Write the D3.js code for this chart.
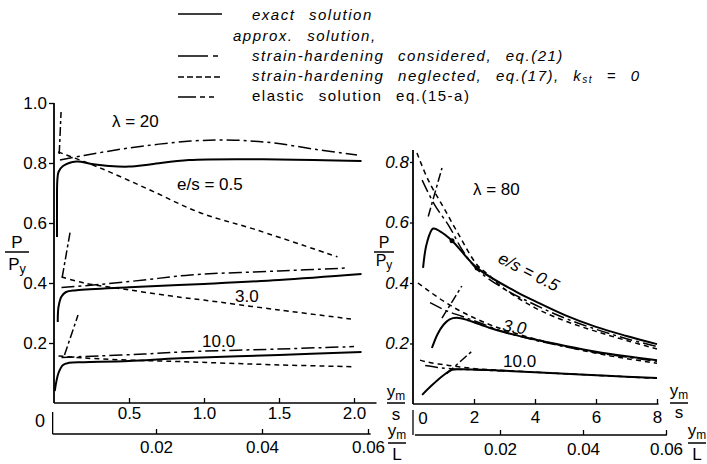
<!DOCTYPE html>
<html><head><meta charset="utf-8">
<script src="https://cdn.jsdelivr.net/npm/d3@7"></script>
<style>
body{margin:0;background:#fff;}
svg{display:block;font-family:"Liberation Sans",Arial,sans-serif;}
.tick text{font-size:17px;fill:#000;}
</style></head><body>
<script>
// ---------- data ----------
// Left panel, lambda = 20 : [y_m/s, P/Py]
const exact05L = [[0.02,0.553],[0.02,0.66],[0.022,0.74],[0.03,0.77],[0.06,0.79],[0.15,0.805],[0.25,0.797],[0.37,0.79],[0.5,0.788],[0.65,0.796],[0.9,0.81],[1.5,0.812],[2.05,0.807]];
const cons05L  = [[0.04,0.81],[0.2,0.825],[0.5,0.85],[0.91,0.873],[1.2,0.876],[1.46,0.867],[1.75,0.845],[2.02,0.827]];
const neg05L   = [[0.027,0.837],[0.31,0.783],[0.64,0.71],[0.97,0.635],[1.35,0.577],[1.89,0.487]];
const elas05L  = [[0.035,0.83],[0.047,0.97]];
const exact3L  = [[0.025,0.27],[0.03,0.32],[0.05,0.355],[0.08,0.37],[0.15,0.376],[0.5,0.386],[1.0,0.397],[1.5,0.41],[2.05,0.43]];
const cons3L   = [[0.05,0.385],[0.3,0.395],[0.6,0.41],[0.91,0.427],[1.5,0.44],[1.95,0.45]];
const neg3L    = [[0.05,0.42],[0.2,0.4],[0.5,0.377],[0.85,0.352],[1.0,0.343],[1.5,0.31],[1.98,0.28]];
const elas3L   = [[0.055,0.42],[0.11,0.577]];
const exact10L = [[0.005,0.04],[0.03,0.1],[0.06,0.127],[0.1,0.134],[0.2,0.136],[0.5,0.14],[0.84,0.149],[1.5,0.16],[2.05,0.17]];
const cons10L  = [[0.05,0.152],[0.3,0.157],[0.6,0.163],[0.84,0.17],[1.5,0.18],[2.0,0.188]];
const neg10L   = [[0.03,0.157],[0.2,0.15],[0.5,0.143],[0.84,0.138],[1.5,0.127],[2.0,0.121]];
const elas10L  = [[0.07,0.16],[0.16,0.293]];
// Right panel, lambda = 80
const exact05R = [[0.33,0.45],[0.45,0.53],[0.66,0.58],[0.9,0.57],[1.28,0.54],[2.1,0.45],[3.4,0.37],[4,0.34],[5,0.293],[6,0.255],[7,0.225],[8,0.198]];
const cons05R  = [[0.3,0.74],[0.7,0.66],[1.2,0.585],[1.6,0.512],[2.1,0.445],[3,0.38],[4,0.328],[5,0.283],[6,0.247],[7,0.216],[8,0.19]];
const neg05R   = [[0.13,0.83],[0.5,0.74],[1.0,0.65],[1.5,0.56],[2.1,0.46],[2.5,0.425],[3,0.38],[4,0.318],[5,0.274],[6,0.24],[7,0.21],[8,0.182]];
const elas05R  = [[0.5,0.62],[0.95,0.78]];
const exact3R  = [[0.62,0.185],[0.8,0.23],[1.0,0.262],[1.2,0.28],[1.44,0.285],[1.8,0.277],[2.5,0.252],[3,0.237],[4,0.213],[5,0.192],[6,0.173],[7,0.158],[8,0.145]];
const cons3R   = [[0.56,0.335],[1.1,0.308],[1.6,0.29],[2.2,0.268],[3,0.238],[4,0.211],[5,0.189],[6,0.17],[7,0.155],[8,0.141]];
const neg3R    = [[0.16,0.4],[0.5,0.375],[1.0,0.34],[1.5,0.31],[2,0.285],[2.5,0.263],[3,0.245],[4,0.215],[5,0.19],[6,0.168],[7,0.15],[8,0.135]];
const elas3R   = [[0.95,0.284],[1.6,0.39]];
const exact10R = [[0.3,0.03],[0.6,0.06],[1.0,0.095],[1.28,0.113],[1.6,0.115],[2,0.114],[3,0.11],[4,0.105],[5,0.1],[6,0.095],[7,0.09],[8,0.086]];
const cons10R  = [[0.4,0.127],[0.8,0.121],[1.3,0.116],[2,0.113],[3,0.109]];
const neg10R   = [[0.23,0.145],[0.5,0.138],[1.0,0.13],[1.5,0.123],[2.1,0.116],[3,0.111],[4,0.105],[5,0.1],[6,0.095],[7,0.09],[8,0.085]];
const elas10R  = [[1.1,0.1],[1.97,0.178]];
const dotsR    = [[1.28,0.54],[2.1,0.45]];

// ticks
const yTicksL = [0.2,0.4,0.6,0.8,1.0];
const xTicksL = [0.5,1.0,1.5,2.0];
const yTicksR = [0.2,0.4,0.6,0.8];
const xTicksR = [2,4,6,8];
const lTicks  = [0.02,0.04,0.06];

const legendRows = [
  {text:"exact solution", style:"exact", x:252, italic:true},
  {text:"approx. solution,", style:null, x:233, italic:true},
  {text:"strain-hardening considered, eq.(21)", style:"cons", x:252, italic:true},
  {text:"strain-hardening neglected, eq.(17), k", sub:"st", tail:" = 0", style:"neg", x:252, italic:true},
  {text:"elastic solution eq.(15-a)", style:"elas", x:252, italic:false}
];

// ---------- drawing ----------
const W=707,H=464;
const svg=d3.select("body").append("svg").attr("width",W).attr("height",H);
svg.append("rect").attr("width",W).attr("height",H).attr("fill","#fff");

const styles={
  exact:{dash:null,w:2,leg:null},
  cons:{dash:"13,4,3,4",w:1.5,leg:"30,5,5,10"},
  neg:{dash:"5,4",w:1.5,leg:"6,3"},
  elas:{dash:"9,3,3,3",w:1.5,leg:"18,4,5,4,5,20"}
};

const xL=d3.scaleLinear().domain([0,2]).range([54,354]);
const yL=d3.scaleLinear().domain([0,1]).range([403,103]);
const xLL=d3.scaleLinear().domain([0,0.06]).range([50,368]);
const xR=d3.scaleLinear().domain([0,8]).range([413,657]);
const yR=d3.scaleLinear().domain([0,0.8]).range([404,162]);
const xRL=d3.scaleLinear().domain([0,0.06]).range([417,666]);

function seg(g,x1,y1,x2,y2,w){g.append("line").attr("x1",x1).attr("y1",y1).attr("x2",x2).attr("y2",y2).attr("stroke","#000").attr("stroke-width",w||1.5);}

function curve(data,xs,ys,st){
  const s=styles[st];
  const line=d3.line().x(d=>xs(d[0])).y(d=>ys(d[1])).curve(d3.curveCatmullRom.alpha(0.5));
  svg.append("path").datum(data).attr("d",line).attr("fill","none").attr("stroke","#000")
    .attr("stroke-width",s.w).attr("stroke-dasharray",s.dash).attr("stroke-linejoin","round");
}

// ---- axes left ----
const gAx=svg.append("g");
function styleAxis(g){g.select(".domain").remove();g.selectAll(".tick line").attr("stroke","#000").attr("stroke-width",1.3);}
svg.append("g").attr("transform","translate(54,0)")
  .call(d3.axisLeft(yL).tickValues(yTicksL).tickSizeInner(5).tickSizeOuter(0).tickPadding(2).tickFormat(d3.format(".1f"))).call(styleAxis);
seg(gAx,xL(0),yL(0),xL(0),yL(1),1.8);
svg.append("g").attr("transform","translate(0,403)")
  .call(d3.axisBottom(xL).tickValues(xTicksL).tickSizeInner(-5).tickSizeOuter(0).tickPadding(4).tickFormat(d3.format(".1f"))).call(styleAxis);
seg(gAx,xL(0),yL(0),xL(2.15),yL(0),1.6);
svg.append("g").attr("transform","translate(0,434)")
  .call(d3.axisBottom(xLL).tickValues(lTicks).tickSizeInner(-5).tickSizeOuter(0).tickPadding(7).tickFormat(d3.format(".2f"))).call(styleAxis);
seg(gAx,xLL(0.0005),434,xLL(0.0605),434,1.6);
seg(gAx,xLL(0.0005),412,xLL(0.0005),434,1.3);

// ---- axes right ----
svg.append("g").attr("transform","translate(413,0)")
  .call(d3.axisLeft(yR).tickValues(yTicksR).tickSizeInner(3).tickSizeOuter(0).tickPadding(1).tickFormat(d3.format(".1f"))).call(styleAxis)
  .selectAll("text").attr("font-style","italic");
seg(gAx,xR(0),yR(0),xR(0),yR(0.84),1.8);
svg.append("g").attr("transform","translate(0,404)")
  .call(d3.axisBottom(xR).tickValues(xTicksR).tickSizeInner(-5).tickSizeOuter(0).tickPadding(7).tickFormat(d3.format("d"))).call(styleAxis);
seg(gAx,xR(0),yR(0),xR(8.05),yR(0),1.6);
svg.append("g").attr("transform","translate(0,435)")
  .call(d3.axisBottom(xRL).tickValues(lTicks).tickSizeInner(-5).tickSizeOuter(0).tickPadding(8).tickFormat(d3.format(".2f"))).call(styleAxis);
seg(gAx,xRL(-0.0005),435,xRL(0.0602),435,1.6);
seg(gAx,xR(0),410,xR(0),435,1.3);

function txt(x,y,s,o){o=o||{};const t=svg.append("text").attr("x",x).attr("y",y).text(s)
  .attr("font-size",o.size||17).attr("text-anchor",o.anchor||"start").attr("font-style",o.italic?"italic":"normal");
  if(o.rot) t.attr("transform",`rotate(${o.rot},${x},${y})`);
  if(o.ls) t.attr("letter-spacing",o.ls);
  return t;}
txt(40,427,"0",{anchor:"middle",size:18});
txt(423,424,"0",{anchor:"middle"});

// fraction labels
function frac(cx,yNum,yBar,yDen,num,numSub,den,denSub,half,fs){
  fs=fs||17;
  const t=svg.append("text").attr("x",cx).attr("y",yNum).attr("text-anchor","middle").attr("font-size",fs);
  t.append("tspan").text(num);
  if(numSub) t.append("tspan").text(numSub).attr("font-size",fs*0.7).attr("dy",3);
  seg(svg,cx-half,yBar,cx+half,yBar,1.5);
  const d=svg.append("text").attr("x",cx).attr("y",yDen).attr("text-anchor","middle").attr("font-size",fs);
  d.append("tspan").text(den);
  if(denSub) d.append("tspan").text(denSub).attr("font-size",fs*0.75).attr("dy",3);
}
frac(396,397,403,420,"y","m","s",null,9);
frac(397,436,443,460,"y","m","L",null,9);
frac(679,396,403,418,"y","m","s",null,9);
frac(697,436,443,460,"y","m","L",null,9);
frac(17,248,252,270,"P",null,"P","y",12);
frac(384,248,252,266,"P",null,"P","y",10,16);

// ---- curves ----
[[exact05L,"exact"],[cons05L,"cons"],[neg05L,"neg"],[elas05L,"elas"],
 [exact3L,"exact"],[cons3L,"cons"],[neg3L,"neg"],[elas3L,"elas"],
 [exact10L,"exact"],[cons10L,"cons"],[neg10L,"neg"],[elas10L,"elas"]].forEach(c=>curve(c[0],xL,yL,c[1]));
[[exact05R,"exact"],[cons05R,"cons"],[neg05R,"neg"],[elas05R,"elas"],
 [exact3R,"exact"],[cons3R,"cons"],[neg3R,"neg"],[elas3R,"elas"],
 [exact10R,"exact"],[cons10R,"cons"],[neg10R,"neg"],[elas10R,"elas"]].forEach(c=>curve(c[0],xR,yR,c[1]));
svg.selectAll("circle.dot").data(dotsR).enter().append("circle").attr("class","dot")
  .attr("cx",d=>xR(d[0])).attr("cy",d=>yR(d[1])).attr("r",2.5).attr("fill","#000");

// curve labels
txt(112,127,"λ = 20");
txt(177,190,"e/s = 0.5");
txt(235,302,"3.0");
txt(202,347,"10.0");
txt(473,195,"λ = 80");
txt(497,262,"e/s = 0.5",{rot:27,italic:true});
txt(502,331,"3.0",{rot:8,italic:true});
txt(503,367,"10.0");

// ---- legend ----
const legY=[20,41,61,81,101];
const legLineY=[14,null,56,77,97];
legendRows.forEach((r,i)=>{
  if(r.style){
    const s=styles[r.style];
    svg.append("line").attr("x1",178).attr("x2",222).attr("y1",legLineY[i]).attr("y2",legLineY[i])
      .attr("stroke","#000").attr("stroke-width",1.5).attr("stroke-dasharray",s.leg);
  }
  const t=svg.append("text").attr("x",r.x).attr("y",legY[i]).attr("font-size",15)
    .attr("font-style",r.italic?"italic":"normal").attr("letter-spacing",1.5).attr("word-spacing",8);
  t.append("tspan").text(r.text);
  if(r.sub){t.append("tspan").text(r.sub).attr("font-size",10).attr("dy",2);
    t.append("tspan").text(r.tail).attr("dy",-2);}
});
</script></body></html>
